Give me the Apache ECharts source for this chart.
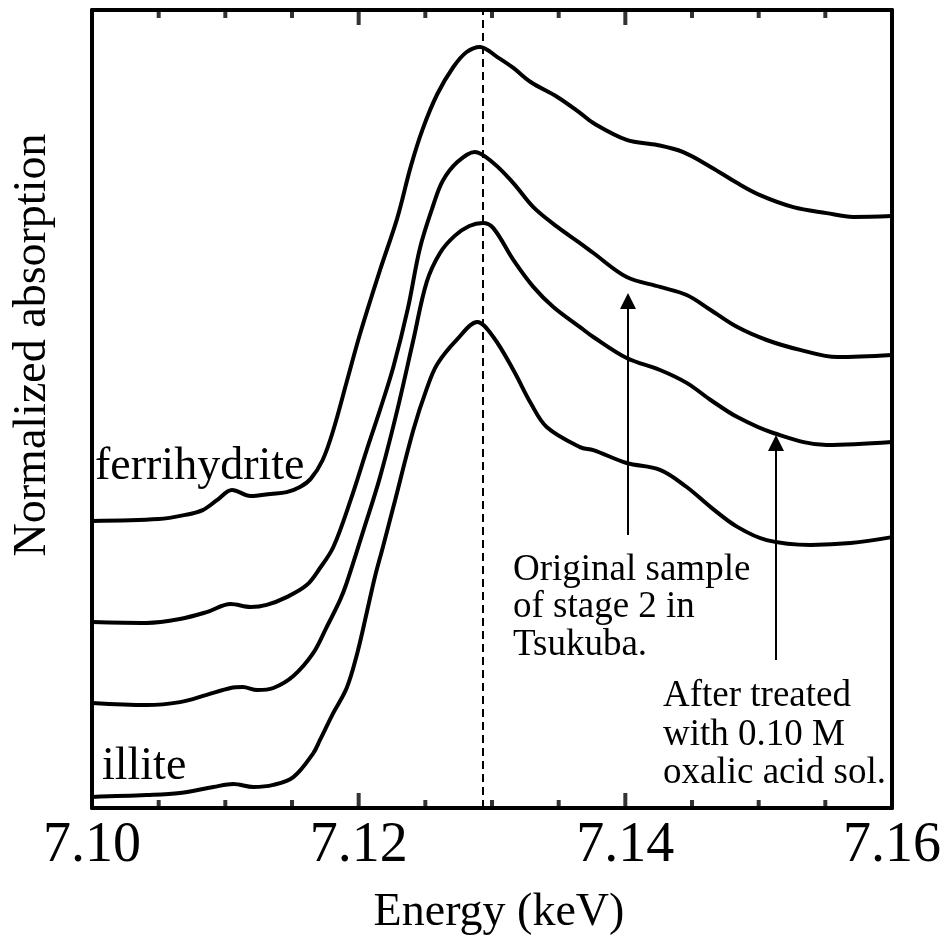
<!DOCTYPE html>
<html><head><meta charset="utf-8">
<script src="https://cdn.jsdelivr.net/npm/echarts@6/dist/echarts.min.js"></script>
<style>html,body{margin:0;padding:0;background:#fff}#c{width:940px;height:940px}</style>
</head><body><div id="c"></div>
<script>
// Energy axis (keV)
const xMin = 7.10, xMax = 7.16, xStep = 0.02, minorSplit = 4;
const yMin = 0, yMax = 2.66;
// Reference line energy
const refEnergy = [7.1293];

// ferrihydrite
const ferriE = [7.1000,7.1050,7.1070,7.1083,7.1094,7.1105,7.1119,7.1134,7.1146,7.1156,7.1164,7.1173,7.1181,7.1191,7.1201,7.1216,7.1229,7.1239,7.1248,7.1259,7.1271,7.1281,7.1291,7.1304,7.1316,7.1329,7.1349,7.1366,7.1376,7.1401,7.1424,7.1443,7.1464,7.1484,7.1501,7.1526,7.1551,7.1571,7.1600];
const ferriY = [0.957,0.963,0.977,0.993,1.027,1.060,1.040,1.047,1.053,1.070,1.097,1.160,1.260,1.420,1.580,1.793,1.967,2.137,2.263,2.380,2.470,2.520,2.537,2.503,2.467,2.420,2.370,2.317,2.283,2.227,2.210,2.187,2.137,2.083,2.043,2.003,1.983,1.970,1.973];

// Original sample of stage 2 in Tsukuba
const origE = [7.1000,7.1041,7.1066,7.1086,7.1104,7.1119,7.1131,7.1146,7.1161,7.1171,7.1181,7.1194,7.1206,7.1216,7.1226,7.1237,7.1246,7.1256,7.1263,7.1274,7.1287,7.1301,7.1316,7.1331,7.1349,7.1366,7.1376,7.1401,7.1426,7.1446,7.1464,7.1484,7.1506,7.1531,7.1559,7.1600];
const origY = [0.620,0.617,0.630,0.653,0.680,0.670,0.677,0.703,0.743,0.800,0.870,1.027,1.193,1.327,1.470,1.667,1.867,2.010,2.090,2.153,2.187,2.150,2.083,2.003,1.937,1.883,1.850,1.770,1.737,1.710,1.660,1.603,1.560,1.527,1.503,1.510];

// After treated with 0.10 M oxalic acid sol.
const treatE = [7.1000,7.1041,7.1066,7.1086,7.1104,7.1113,7.1124,7.1136,7.1151,7.1166,7.1176,7.1186,7.1191,7.1203,7.1216,7.1229,7.1241,7.1251,7.1261,7.1272,7.1283,7.1293,7.1301,7.1316,7.1331,7.1346,7.1366,7.1376,7.1401,7.1426,7.1446,7.1464,7.1484,7.1511,7.1551,7.1600];
const treatY = [0.350,0.343,0.353,0.377,0.400,0.403,0.393,0.400,0.440,0.517,0.603,0.693,0.750,0.917,1.103,1.327,1.560,1.753,1.850,1.907,1.940,1.950,1.933,1.827,1.737,1.670,1.603,1.570,1.500,1.460,1.417,1.360,1.303,1.250,1.210,1.220];

// illite
const illiteE = [7.1000,7.1041,7.1066,7.1091,7.1106,7.1121,7.1136,7.1151,7.1166,7.1171,7.1181,7.1191,7.1199,7.1206,7.1212,7.1218,7.1226,7.1241,7.1251,7.1259,7.1274,7.1289,7.1301,7.1316,7.1329,7.1341,7.1366,7.1376,7.1401,7.1426,7.1446,7.1464,7.1484,7.1506,7.1539,7.1569,7.1600];
const illiteY = [0.037,0.043,0.050,0.070,0.080,0.070,0.077,0.103,0.183,0.227,0.317,0.400,0.517,0.650,0.767,0.867,1.003,1.260,1.397,1.480,1.563,1.620,1.570,1.460,1.350,1.270,1.203,1.193,1.150,1.127,1.070,1.003,0.937,0.893,0.877,0.883,0.903];

// Annotation arrows: [energy, yStart, yEnd]
const arrowOrig = [7.1402, 0.91, 1.69];
const arrowTreat = [7.1513, 0.493, 1.217];

const font = "'Liberation Serif', 'Times New Roman', serif";
const toPairs = (xs, ys) => xs.map((x, i) => [x, ys[i]]);

// Tick energies derived from the axis settings
const nMinor = Math.round((xMax - xMin) / (xStep / minorSplit));
const majorTickE = [], minorTickE = [];
for (let i = 1; i < nMinor; i++) {
  const e = +(xMin + i * xStep / minorSplit).toFixed(4);
  (i % minorSplit === 0 ? majorTickE : minorTickE).push(e);
}

const tickSeries = (name, es, yv, len, dir) => ({
  name, type: 'scatter', silent: true, clip: false, z: 6,
  data: es.map(e => [e, yv]),
  symbol: 'rect', symbolSize: [4, len], symbolOffset: [0, dir * len / 2],
  itemStyle: { color: '#000' }
});

const lineSeries = (name, xs, ys, extra) => Object.assign({
  name, type: 'line', data: toPairs(xs, ys), showSymbol: false, symbol: 'none',
  smooth: 0.35, lineStyle: { color: '#000', width: 4 }, silent: true, z: 3
}, extra || {});

const arrowLine = (a) => [{ coord: [a[0], a[1]] }, { coord: [a[0], a[2]] }];

const makeX = (pos, withLabels) => {
  const ax = {
    type: 'value', position: pos, min: xMin, max: xMax, interval: xStep,
    axisLine: { show: true, onZero: false, lineStyle: { color: '#000', width: 4 } },
    axisTick: { show: false },
    minorTick: { show: false },
    splitLine: { show: false }, minorSplitLine: { show: false },
    axisLabel: { show: withLabels, color: '#000', fontSize: 56, fontFamily: font, margin: 10,
      formatter: v => v.toFixed(2) }
  };
  if (withLabels) {
    ax.name = 'Energy (keV)';
    ax.nameLocation = 'middle';
    ax.nameGap = 82;
    ax.nameTextStyle = { color: '#000', fontSize: 46, fontFamily: font, padding: [0, 0, 0, 14] };
  }
  return ax;
};
const makeY = (pos) => ({
  type: 'value', position: pos, min: yMin, max: yMax,
  axisLine: { show: true, lineStyle: { color: '#000', width: 4 } },
  axisTick: { show: false }, axisLabel: { show: false }, splitLine: { show: false }
});

const chart = echarts.init(document.getElementById('c'), null, { renderer: 'canvas' });
chart.setOption({
  animation: false,
  backgroundColor: '#fff',
  grid: { left: 92, right: 48, top: 10, bottom: 132, outerBoundsMode: 'none' },
  xAxis: [makeX('bottom', true), makeX('top', false)],
  yAxis: [makeY('left'), makeY('right')],
  series: [
    lineSeries('ferrihydrite', ferriE, ferriY, {
      markLine: {
        silent: true, symbol: 'none', label: { show: false }, precision: 5,
        lineStyle: { color: '#000', width: 2, type: [8, 5] },
        data: refEnergy.map(e => ({ xAxis: e }))
      }
    }),
    lineSeries('Original sample', origE, origY, {
      markLine: {
        silent: true, symbol: ['none', 'triangle'], symbolSize: 16, label: { show: false }, precision: 5,
        lineStyle: { color: '#000', width: 2, type: 'solid' },
        data: [arrowLine(arrowOrig)]
      }
    }),
    lineSeries('After treated', treatE, treatY, {
      markLine: {
        silent: true, symbol: ['none', 'triangle'], symbolSize: 16, label: { show: false }, precision: 5,
        lineStyle: { color: '#000', width: 2, type: 'solid' },
        data: [arrowLine(arrowTreat)]
      }
    }),
    lineSeries('illite', illiteE, illiteY),
    tickSeries('bottomMajor', majorTickE, yMin, 15, -1),
    tickSeries('bottomMinor', minorTickE, yMin, 8, -1),
    tickSeries('topMajor', majorTickE, yMax, 15, 1),
    tickSeries('topMinor', minorTickE, yMax, 8, 1)
  ],
  graphic: [
    { type: 'text', x: 33, y: 345, rotation: Math.PI / 2,
      style: { text: 'Normalized absorption', fontSize: 46, fontFamily: font, fill: '#000', align: 'center', verticalAlign: 'middle' } },
    { type: 'text', x: 95, y: 482 - 0.33 * 46,
      style: { text: 'ferrihydrite', fontSize: 46, fontFamily: font, fill: '#000', align: 'left', verticalAlign: 'middle' } },
    { type: 'text', x: 102, y: 782 - 0.33 * 46,
      style: { text: 'illite', fontSize: 46, fontFamily: font, fill: '#000', align: 'left', verticalAlign: 'middle' } },
    { type: 'text', x: 513, y: 582 - 0.33 * 37 - 18.75,
      style: { text: 'Original sample\nof stage 2 in\nTsukuba.', fontSize: 37, lineHeight: 37.5, fontFamily: font, fill: '#000', align: 'left', verticalAlign: 'top' } },
    { type: 'text', x: 663, y: 708 - 0.33 * 37 - 18.75,
      style: { text: 'After treated\nwith 0.10 M\noxalic acid sol.', fontSize: 37, lineHeight: 38.5, fontFamily: font, fill: '#000', align: 'left', verticalAlign: 'top' } }
  ]
});
</script>
</body></html>
